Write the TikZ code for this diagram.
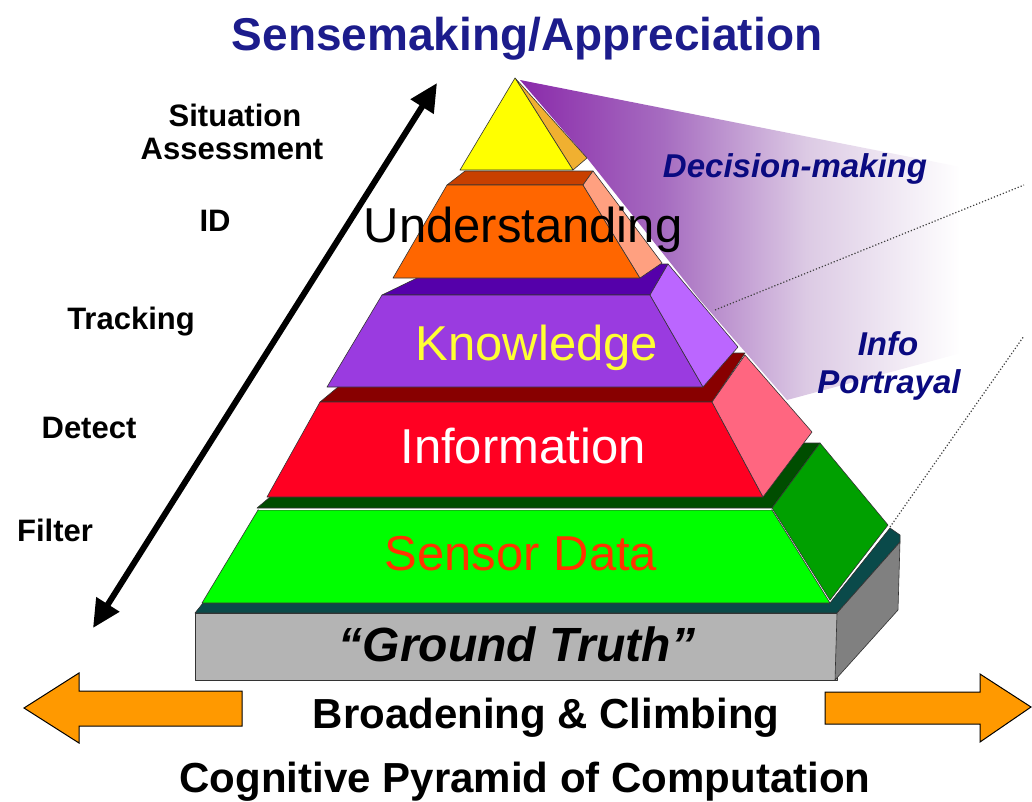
\documentclass[tikz,border=0pt]{standalone}
\usepackage{fontspec}
\setmainfont{Liberation Sans}
\usetikzlibrary{positioning,arrows.meta}

\definecolor{titleblue}{HTML}{1C1C8C}
\definecolor{labelblue}{HTML}{0A0A80}
\definecolor{wedgepurple}{HTML}{8A2AAA}
\definecolor{wedgemid}{HTML}{A66CC0}
\definecolor{wedgelight}{HTML}{DCCAE4}
\definecolor{apexfront}{HTML}{FFFF00}
\definecolor{apexside}{HTML}{F0B030}
\definecolor{undtop}{HTML}{C84000}
\definecolor{undfront}{HTML}{FF6600}
\definecolor{undside}{HTML}{FFA080}
\definecolor{knowtop}{HTML}{5500AA}
\definecolor{knowfront}{HTML}{9A3BE0}
\definecolor{knowside}{HTML}{BB66FF}
\definecolor{knowtext}{HTML}{FFFF33}
\definecolor{infotop}{HTML}{880000}
\definecolor{infofront}{HTML}{FF0022}
\definecolor{infoside}{HTML}{FF6680}
\definecolor{sensetop}{HTML}{004D00}
\definecolor{sensefront}{HTML}{00FF00}
\definecolor{senseside}{HTML}{00A000}
\definecolor{sensetext}{HTML}{FF3300}
\definecolor{groundtop}{HTML}{0A4A4A}
\definecolor{groundfront}{HTML}{B4B4B4}
\definecolor{groundside}{HTML}{808080}
\definecolor{broadorange}{HTML}{FF9900}

\pgfdeclarehorizontalshading{wedgefade}{100bp}{color(0bp)=(wedgepurple); color(25bp)=(wedgepurple); color(39bp)=(wedgemid); color(53bp)=(wedgelight); color(68bp)=(white); color(100bp)=(white)}

\tikzset{
  face/.style={draw=black!80,line width=0.6pt,line join=round},
  layertext/.style={font=\fontsize{49}{55}\selectfont,anchor=base},
  steptext/.style={font=\bfseries\fontsize{31}{36}\selectfont,anchor=base},
  flowtext/.style={font=\bfseries\itshape\fontsize{33}{38}\selectfont,text=labelblue,anchor=base},
  captext/.style={font=\bfseries\fontsize{42}{48}\selectfont,anchor=base},
  broadarrow/.style={fill=broadorange,draw=black,line width=1pt,line join=miter},
  dots/.style={dotted,line width=1.2pt,black!75}
}

\begin{document}
\begin{tikzpicture}[x=1pt,y=-1pt]
    \useasboundingbox (0,0) rectangle (1032,801);

    % decision-making wedge
    \path[shading=wedgefade]
      (520,80) -- (1032,181) -- (1032,334) -- (787,400) -- (700,300) -- (587,158) -- cycle;
    \coordinate (dotA1) at (715,310);
    \coordinate (dotA2) at (1024,185);
    \coordinate (dotB1) at (890,527);
    \coordinate (dotB2) at (1024,336);
    \draw[dots] (dotA1) -- (dotA2);
    \draw[dots] (dotB1) -- (dotB2);

    % ground truth slab
    \filldraw[face,fill=groundtop] (195,613) -- (203,603) -- (830,603) -- (890,528) -- (900,535) -- (900,542) -- (837,613) -- cycle;
    \filldraw[face,fill=groundfront] (195,613) rectangle (837,680);
    \filldraw[face,fill=groundside] (837,613) -- (900,542) -- (898,610) -- (835,680) -- cycle;

    % sensor data
    \filldraw[face,fill=sensetop] (257,508) -- (334,443) -- (820,443) -- (772,508) -- cycle;
    \filldraw[face,fill=sensefront] (258,510) -- (772,510) -- (830,603) -- (202,603) -- cycle;
    \draw[white,line width=1pt] (259,509) -- (771,509);
    \filldraw[face,fill=senseside] (772,508) -- (820,443) -- (888,525) -- (830,600) -- cycle;

    % information
    \filldraw[face,fill=infotop] (320,402) -- (379,353) -- (745,353) -- (712,402) -- cycle;
    \filldraw[face,fill=infofront] (320,402) -- (712,402) -- (763,497) -- (267,497) -- cycle;
    \filldraw[face,fill=infoside] (712,402) -- (745,355) -- (812,432) -- (763,497) -- cycle;

    % knowledge
    \filldraw[face,fill=knowtop] (382,295) -- (446,264) -- (668,264) -- (650,295) -- cycle;
    \filldraw[face,fill=knowfront] (382,295) -- (650,295) -- (703,387) -- (327,387) -- cycle;
    \filldraw[face,fill=knowside] (650,295) -- (668,264) -- (738,347) -- (703,387) -- cycle;

    % understanding
    \filldraw[face,fill=undtop] (447,185) -- (465,171) -- (593,171) -- (583,185) -- cycle;
    \filldraw[face,fill=undfront] (447,185) -- (583,185) -- (640,278) -- (393,278) -- cycle;
    \filldraw[face,fill=undside] (583,185) -- (593,171) -- (662,263) -- (640,278) -- cycle;

    % apex
    \filldraw[face,fill=apexside] (515,78) -- (587,158) -- (573,170) -- cycle;
    \filldraw[face,fill=apexfront] (515,78) -- (573,170) -- (460,170) -- cycle;

    % layer names
    \node[layertext] (und) at (523,242) {Understanding};
    \node[layertext,text=knowtext] (know) at (537,360) {Knowledge};
    \node[layertext,text=white] (info) at (523,463) {Information};
    \node[layertext,text=sensetext] (sense) at (521,570) {Sensor Data};
    \node[layertext,font=\bfseries\itshape\fontsize{48}{54}\selectfont] (ground) at (517,661) {``Ground Truth''};

    \node[font=\bfseries\fontsize{46}{52}\selectfont,text=titleblue,anchor=base] (title) at (527,50) {Sensemaking/Appreciation};
    \node[flowtext] (decide) at (795,177) {Decision-making};
    \node[flowtext] (portray1) at (888,355) {Info};
    \node[flowtext] (portray2) at (889,393) {Portrayal};

    % processing steps
    \node[steptext] (sit1) at (235,126) {Situation};
    \node[steptext] (sit2) at (232,159) {Assessment};
    \node[steptext] (ident) at (215,231) {ID};
    \node[steptext] (track) at (131,329) {Tracking};
    \node[steptext] (detect) at (89,438) {Detect};
    \node[steptext] (filter) at (55,541) {Filter};

    \coordinate (low) at (93,628);
    \coordinate (high) at (437,83);
    \draw[line width=6pt,{Triangle[length=28pt,width=26pt]}-{Triangle[length=28pt,width=26pt]}] (low) -- (high);

    % bottom
    \filldraw[broadarrow] (24,708) -- (79,673) -- (79,691) -- (242,691) -- (242,726) -- (79,726) -- (79,743) -- cycle;
    \filldraw[broadarrow] (1031,707) -- (980,674) -- (980,692) -- (825,692) -- (825,724) -- (980,724) -- (980,742) -- cycle;
    \node[captext] (broad) at (546,728) {Broadening \& Climbing};
    \node[captext] (cog) at (525,792) {Cognitive Pyramid of Computation};
\end{tikzpicture}
\end{document}
